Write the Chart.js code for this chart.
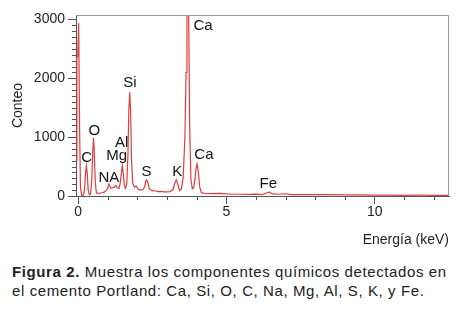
<!DOCTYPE html>
<html>
<head>
<meta charset="utf-8">
<script src="https://cdn.jsdelivr.net/npm/chart.js@4.4.1/dist/chart.umd.min.js"></script>
<style>
  html, body { margin: 0; padding: 0; background: #fff; }
  body { width: 463px; height: 312px; position: relative; overflow: hidden; font-family: "Liberation Sans", Arial, Helvetica, sans-serif; }
  #wrap { position: absolute; left: 0; top: 0; width: 463px; height: 255px; }
  #caption { position: absolute; left: 12px; top: 263px; font-size: 15px; letter-spacing: 0.6px; line-height: 18.5px; color: #222; white-space: nowrap; }
  #caption b { font-weight: bold; }
</style>
</head>
<body>
<div id="wrap"><canvas id="edsChart"></canvas></div>
<div id="caption"><b>Figura 2.</b> Muestra los componentes químicos detectados en<br>el cemento Portland: Ca, Si, O, C, Na, Mg, Al, S, K, y Fe.</div>
<script>
// EDS spectrum (energy in keV, counts)
const energy = [
  -0.07, -0.04, -0.01, 0.02, 0.05, 0.08, 0.12, 0.18,
  0.22, 0.25, 0.28, 0.31, 0.34, 0.38,
  0.42, 0.46, 0.49, 0.52, 0.55, 0.58, 0.62, 0.70,
  0.80, 0.90, 0.98, 1.04, 1.10, 1.16,
  1.22, 1.27, 1.32, 1.38,
  1.42, 1.46, 1.49, 1.52, 1.56, 1.60,
  1.64, 1.68, 1.71, 1.74, 1.77, 1.80, 1.84, 1.90, 1.96, 2.02, 2.10, 2.18,
  2.24, 2.28, 2.31, 2.35, 2.40, 2.50, 2.60, 2.70, 2.80, 2.90, 3.00, 3.10, 3.20,
  3.26, 3.31, 3.36, 3.42, 3.48,
  3.54, 3.60, 3.64, 3.67, 3.69, 3.72, 3.76, 3.80, 3.85, 3.90,
  3.94, 3.98, 4.01, 4.05, 4.10, 4.15, 4.25, 4.50, 4.80, 5.00, 5.20, 5.50, 5.80,
  6.00, 6.20, 6.40, 6.45, 6.55, 6.80, 7.00, 7.20, 7.50, 8.00, 8.50, 9.00,
  9.50, 10.00, 10.50, 11.00, 11.50, 12.00, 12.50
];
const counts = [
  600, 2350, 2380, 2940, 1200, 150, 15, 15,
  120, 380, 510, 380, 100, 20,
  30, 250, 700, 990, 700, 220, 50, 45,
  55, 70, 110, 200, 130, 140,
  150, 180, 140, 130,
  220, 400, 515, 400, 180, 130,
  200, 700, 1450, 1760, 1450, 650, 220, 150, 170, 120, 100, 110,
  150, 250, 275, 230, 120, 90, 85, 75, 80, 70, 70, 75, 110,
  220, 275, 200, 90, 120,
  300, 1000, 2100, 3500, 4200, 3500, 1200, 300, 120, 150,
  300, 480, 545, 420, 150, 60, 45, 40, 45, 35, 30, 30, 28,
  32, 25, 60, 65, 35, 30, 38, 25, 22, 25, 22, 18,
  20, 15, 15, 12, 14, 12, 10
];

// element labels and where they sit (keV, counts)
const peakNames = ['Ca', 'Si', 'O', 'C', 'Al', 'Mg', 'NA', 'S', 'K', 'Ca', 'Fe'];
const peakLabelX = [4.21, 1.75, 0.55, 0.29, 1.47, 1.30, 1.04, 2.31, 3.34, 4.24, 6.41];
const peakLabelY = [2896, 1930, 1107, 652, 908, 687, 312, 404, 404, 693, 200];

const yMajorTicks = [0, 1000, 2000, 3000];
const xMajorTicks = [0, 5, 10];

const FONT = '"Liberation Sans", Arial, Helvetica, sans-serif';
const AXIS_COLOR = '#555';

// frame, minor ticks and element labels
const extrasPlugin = {
  id: 'extras',
  afterDraw(chart) {
    const { ctx, chartArea: a, scales: { x, y } } = chart;
    ctx.save();
    // grey box on top / right
    ctx.strokeStyle = '#999';
    ctx.lineWidth = 1;
    ctx.beginPath();
    ctx.moveTo(a.left, a.top + 0.5);
    ctx.lineTo(a.right - 0.5, a.top + 0.5);
    ctx.lineTo(a.right - 0.5, a.bottom);
    ctx.stroke();

    // minor ticks
    ctx.strokeStyle = AXIS_COLOR;
    ctx.beginPath();
    for (let v = 100; v <= 3000; v += 100) {
      if (v % 1000 === 0) continue;
      const py = Math.round(y.getPixelForValue(v)) + 0.5;
      ctx.moveTo(a.left - 4, py);
      ctx.lineTo(a.left, py);
    }
    for (let v = 1; v <= 12; v++) {
      if (v % 5 === 0) continue;
      const px = Math.round(x.getPixelForValue(v)) + 0.5;
      ctx.moveTo(px, a.bottom);
      ctx.lineTo(px, a.bottom + 4);
    }
    ctx.stroke();

    // element labels
    ctx.fillStyle = '#111';
    ctx.font = '15px ' + FONT;
    ctx.textAlign = 'center';
    ctx.textBaseline = 'middle';
    peakNames.forEach((name, i) => {
      ctx.fillText(name, x.getPixelForValue(peakLabelX[i]), y.getPixelForValue(peakLabelY[i]));
    });
    ctx.restore();
  }
};

const ctx = document.getElementById('edsChart');
new Chart(ctx, {
  type: 'line',
  data: {
    datasets: [{
      data: energy.map((e, i) => ({ x: e, y: counts[i] })),
      borderColor: '#e03c3c',
      borderWidth: 1.2,
      pointRadius: 0,
      tension: 0,
      fill: false
    }]
  },
  options: {
    responsive: true,
    maintainAspectRatio: false,
    animation: false,
    layout: { padding: { top: 15, right: 14, left: 0, bottom: 0 } },
    plugins: { legend: { display: false }, tooltip: { enabled: false } },
    scales: {
      x: {
        type: 'linear',
        min: -0.07,
        max: 12.5,
        afterFit: (s) => { s.height = 59; },
        afterBuildTicks: (s) => { s.ticks = xMajorTicks.map(v => ({ value: v })); },
        grid: { display: true, drawOnChartArea: false, tickLength: 8, color: AXIS_COLOR },
        border: { color: AXIS_COLOR },
        ticks: { padding: 0, maxRotation: 0, autoSkip: false, color: '#222', font: { family: FONT, size: 14 }, callback: (v) => String(v) },
        title: { display: true, text: 'Energía (keV)', align: 'end', color: '#222', padding: { top: 0, bottom: 6 }, font: { family: FONT, size: 14 } }
      },
      y: {
        min: 0,
        max: 3075,
        afterFit: (s) => { s.width = 76; },
        afterBuildTicks: (s) => { s.ticks = yMajorTicks.map(v => ({ value: v })); },
        grid: { display: true, drawOnChartArea: false, tickLength: 8, color: AXIS_COLOR },
        border: { color: AXIS_COLOR },
        ticks: { padding: 3, color: '#222', font: { family: FONT, size: 14 }, callback: (v) => String(v) },
        title: { display: true, text: 'Conteo', color: '#222', padding: { top: 10, bottom: 0 }, font: { family: FONT, size: 14 } }
      }
    }
  },
  plugins: [extrasPlugin]
});
</script>
</body>
</html>
